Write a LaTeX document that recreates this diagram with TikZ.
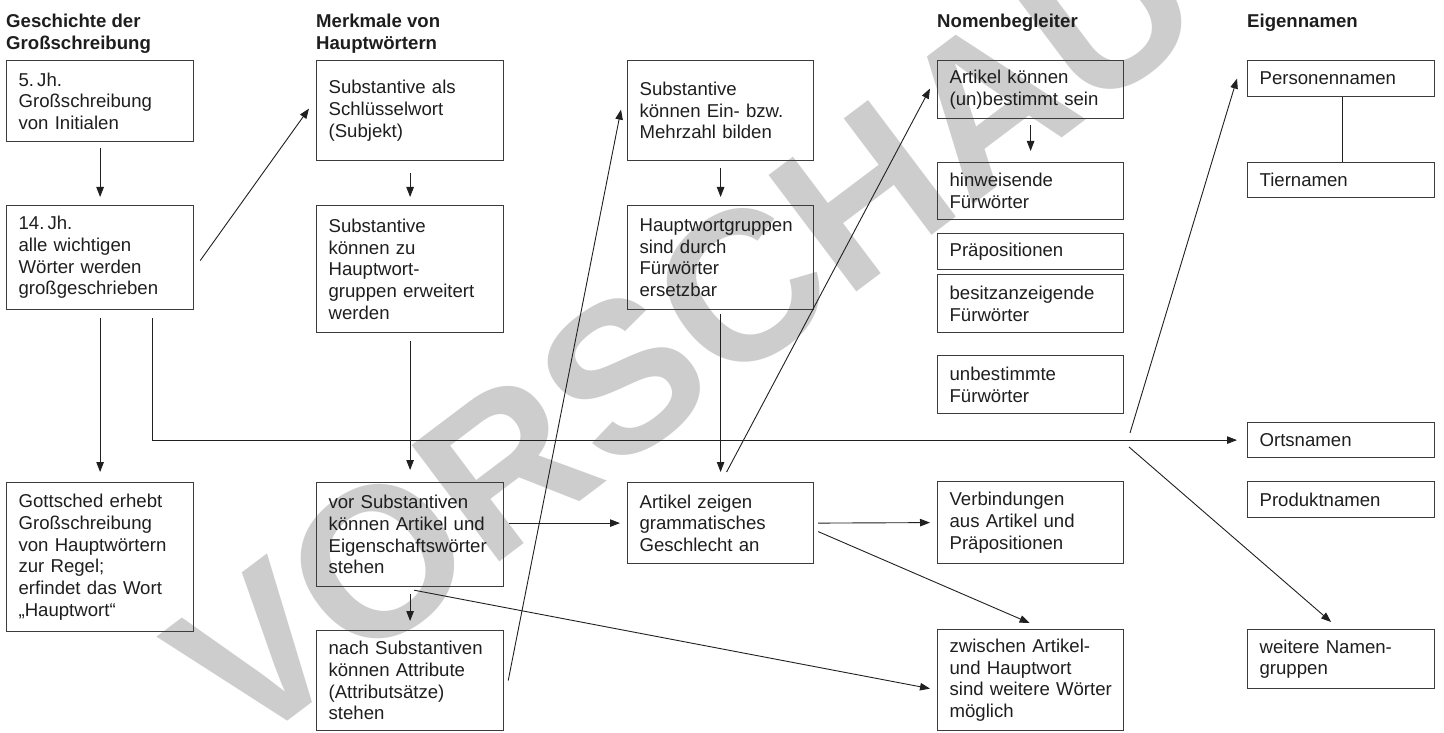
\documentclass[tikz,border=0pt]{standalone}
\usepackage{fontspec}
\setmainfont{Liberation Sans}
\usetikzlibrary{arrows.meta,calc}
\definecolor{boxc}{HTML}{3C3C3C}
\definecolor{linec}{HTML}{202020}
\definecolor{textc}{HTML}{1E1E1E}
\definecolor{wmc}{HTML}{CDCDCD}
\begin{document}
\begin{tikzpicture}[x=1pt,y=-1pt,
  bodyfont/.style={font=\fontsize{18.6}{21.7}\selectfont},
  headfont/.style={font=\fontsize{18.6}{22}\selectfont\bfseries},
  box/.style={draw=boxc, line width=1.2pt, text=textc, align=left, anchor=north west,
    inner xsep=12pt, inner ysep=0pt, bodyfont},
  head/.style={anchor=north west, inner sep=0pt, align=left, text=textc, headfont},
  arr/.style={draw=linec, line width=0.9pt, -{Triangle[length=10pt,width=7.5pt]}},
  ln/.style={draw=linec, line width=0.9pt},
  wm/.style={text=wmc, anchor=base west, inner sep=0pt, rotate=37,
    font=\fontsize{212}{212}\selectfont\bfseries}]
\useasboundingbox (0,0) rectangle (1444,733);
% watermark
\node[wm] (wm) at (243.6,754.5) {VORSCHAU};
% headers
\node[head] (h1) at (6,13.5) {Geschichte der\\Großschreibung};
\node[head] (h2) at (316,13.5) {Merkmale von\\Hauptwörtern};
\node[head] (h3) at (937,13.5) {Nomenbegleiter};
\node[head] (h4) at (1247,13.5) {Eigennamen};
% column 1
\node[box, text width=163pt, minimum height=81pt] (b1) at (6,60) {5.\,Jh.\\Großschreibung\\von Initialen};
\node[box, text width=163pt, minimum height=104pt] (b2) at (6,205) {14.\,Jh.\\alle wichtigen\\Wörter werden\\großgeschrieben};
\node[box, text width=163pt, minimum height=149pt] (b3) at (6,482) {Gottsched erhebt\\Großschreibung\\von Hauptwörtern\\zur Regel;\\erfindet das Wort\\„Hauptwort“};
% column 2
\node[box, text width=163pt, minimum height=100pt] (b4) at (316,60) {Substantive als\\Schlüsselwort\\(Subjekt)};
\node[box, text width=163pt, minimum height=127pt] (b5) at (316,205) {Substantive\\können zu\\Hauptwort-\\gruppen erweitert\\werden};
\node[box, text width=163pt, minimum height=104pt] (b6) at (316,482) {vor Substantiven\\\mbox{können Artikel und}\\Eigenschaftswörter\\stehen};
\node[box, text width=163pt, minimum height=100pt] (b7) at (316,630) {nach Substantiven\\können Attribute\\(Attributsätze)\\stehen};
% column 3
\node[box, text width=162pt, minimum height=100pt] (b8) at (627,60) {Substantive\\können Ein- bzw.\\Mehrzahl bilden};
\node[box, text width=162pt, minimum height=104pt] (b9) at (627,205) {Hauptwortgruppen\\sind durch\\Fürwörter\\ersetzbar};
\node[box, text width=162pt, minimum height=81pt] (b10) at (627,482) {Artikel zeigen\\grammatisches\\Geschlecht an};
% column 4
\node[box, text width=162pt, minimum height=58pt] (b11) at (937,60) {Artikel können\\\mbox{(un)bestimmt sein}};
\node[box, text width=162pt, minimum height=57pt] (b12) at (937,162) {hinweisende\\Fürwörter};
\node[box, text width=162pt, minimum height=36pt] (b13) at (937,233) {Präpositionen};
\node[box, text width=162pt, minimum height=58pt] (b14) at (937,274) {besitzanzeigende\\Fürwörter};
\node[box, text width=162pt, minimum height=58pt] (b15) at (937,355) {unbestimmte\\Fürwörter};
\node[box, text width=162pt, minimum height=82pt] (b16) at (937,481) {Verbindungen\\aus Artikel und\\Präpositionen};
\node[box, text width=162pt, minimum height=101pt] (b17) at (937,629) {zwischen Artikel-\\und Hauptwort\\\mbox{sind weitere Wörter}\\möglich};
% column 5
\node[box, text width=163pt, minimum height=36pt] (b18) at (1247,60) {Personennamen};
\node[box, text width=163pt, minimum height=35pt] (b19) at (1247,162) {Tiernamen};
\node[box, text width=163pt, minimum height=35pt] (b20) at (1247,422) {Ortsnamen};
\node[box, text width=163pt, minimum height=36pt] (b21) at (1247,481) {Produktnamen};
\node[box, text width=163pt, minimum height=59pt] (b22) at (1247,629) {weitere Namen-\\gruppen};
\coordinate (fork) at (1130,440);
% connectors
\draw[arr] ([yshift=-6pt]b1.south) -- ([yshift=8pt]b2.north);
\draw[arr] ([yshift=-8pt]b2.south) -- ([yshift=10pt]b3.north);
\draw[arr] ([xshift=146pt,yshift=-8pt]b2.south west) |- ([xshift=-10pt]b20.west);
\draw[arr] ([yshift=7pt]fork) -- ([xshift=-10pt]b18.west);
\draw[arr] ([xshift=-1pt,yshift=-7pt]fork) -- ([xshift=-10pt,yshift=7pt]b22.north);
\draw[arr] ([xshift=6pt,yshift=-3pt]b2.east) -- ([xshift=-7pt,yshift=2pt]b4.west);
\draw[arr] ([yshift=-12pt]b4.south) -- ([yshift=8pt]b5.north);
\draw[arr] ([yshift=-8pt]b5.south) -- ([yshift=12pt]b6.north);
\draw[arr] ([yshift=-7pt]b6.south) -- ([yshift=9pt]b7.north);
\draw[arr] ([xshift=5pt,yshift=11.5pt]b6.east) -- ([xshift=-7pt]b10.west);
\draw[arr] ([xshift=4pt]b7.east) -- ([xshift=-6pt,yshift=1pt]b8.west);
\draw[arr] ([xshift=4pt,yshift=-3pt]b6.south) -- ([xshift=-7pt,yshift=-8.5pt]b17.west);
\draw[arr] ([yshift=-7pt]b8.south) -- ([yshift=8pt]b9.north);
\draw[arr] ([yshift=-4pt]b9.south) -- ([yshift=10pt]b10.north);
\draw[arr] ([xshift=6pt,yshift=10pt]b10.north) -- ([xshift=-7pt,yshift=1pt]b11.west);
\draw[arr] ([xshift=4pt]b10.east) -- ([xshift=-7pt]b16.west);
\draw[arr] ([xshift=4pt,yshift=-8.5pt]b10.east) -- ([xshift=-1pt,yshift=6pt]b17.north);
\draw[arr] ([yshift=-6pt]b11.south) -- ([yshift=11pt]b12.north);
\draw[ln] ([xshift=1.5pt]b18.south) -- ([xshift=1.5pt]b19.north);
\end{tikzpicture}
\end{document}
